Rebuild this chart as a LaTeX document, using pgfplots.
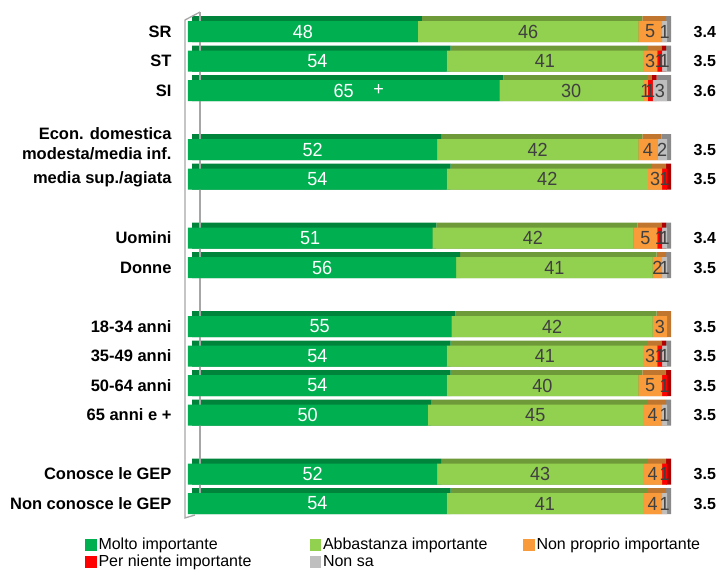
\documentclass[border=0pt]{standalone}
\usepackage{fontspec}
\setmainfont{Liberation Sans}
\newfontfamily\numfont[FakeStretch=0.95]{Liberation Sans}
\usepackage{pgfplots}
\usepackage{pgfplotstable}
\pgfplotsset{compat=1.18}
\definecolor{cA}{HTML}{00B050}
\definecolor{cB}{HTML}{92D050}
\definecolor{cC}{HTML}{F99B3B}
\definecolor{cD}{HTML}{FF0000}
\definecolor{cE}{HTML}{BFBFBF}
\definecolor{dA}{HTML}{00843C}
\definecolor{dB}{HTML}{6F9A3A}
\definecolor{dC}{HTML}{C0762E}
\definecolor{dD}{HTML}{B00000}
\definecolor{dE}{HTML}{8A8A8A}
\definecolor{lbl}{HTML}{404040}
\definecolor{axgray}{HTML}{A6A6A6}

\pgfplotstableread{
pos A B C D E avg
0  48 46 5 0 1 3.4
1  54 41 3 1 1 3.5
2  65 30 1 1 3 3.6
4  52 42 4 0 2 3.5
5  54 42 3 1 0 3.5
7  51 42 5 1 1 3.4
8  56 41 2 0 1 3.5
10 55 42 3 0 0 3.5
11 54 41 3 1 1 3.5
12 54 40 5 1 0 3.5
13 50 45 4 0 1 3.5
15 52 43 4 1 0 3.5
16 54 41 4 0 1 3.5
}\data

\pgfplotsset{
  base/.style={x=4.79pt, y=29.5pt, y dir=reverse, xmin=0, xmax=100,
    ymin=-0.75, ymax=16.75, anchor=origin, enlargelimits=false, clip=false},
  lg/.style={legend image code/.code={\fill[##1] (0pt,-5.75pt) rectangle (11.5pt,5.75pt);}},
  lab/.style={only marks, mark=none, nodes near coords, point meta=explicit,
    /pgf/number format/assume math mode=true,
    nodes near coords align=center,
    every node near coord/.append style={font=\fontsize{19}{21}\selectfont\numfont, inner sep=0pt}},
}

\begin{document}
\begin{tikzpicture}
\useasboundingbox (-188pt,31.5pt) rectangle (531pt,-542.5pt);
% back (3D top faces)
\begin{axis}[base, hide axis, at={(4pt,2.5pt)}, xbar stacked, bar width=26pt]
\draw[axgray, line width=1.3pt] (axis cs:1.67,-0.58) -- (axis cs:1.67,16.3);
\addplot[fill=dA, draw=none] table[x=A, y=pos]{\data};
\addplot[fill=dB, draw=none] table[x=B, y=pos]{\data};
\addplot[fill=dC, draw=none] table[x=C, y=pos]{\data};
\addplot[fill=dD, draw=none] table[x=D, y=pos]{\data};
\addplot[fill=dE, draw=none] table[x=E, y=pos]{\data};
\end{axis}
% front bars + legend
\begin{axis}[base, hide axis, at={(0pt,0pt)}, xbar stacked, bar width=21pt,
  legend columns=3,
  legend style={at={(axis description cs:-0.2150,-0.0201)}, anchor=north west,
    draw=none, fill=none, inner sep=0pt, outer sep=0pt, row sep=-1pt,
    font=\fontsize{16}{18}\selectfont, nodes={inner sep=2pt, text height=11pt, text depth=3pt},
    /tikz/every even column/.append style={column sep=0pt},
    /tikz/every odd column/.append style={column sep=0pt}},
  legend cell align=left]
\addplot[fill=cA, draw=none, lg] table[x=A, y=pos]{\data};
\addlegendentry{\makebox[209pt][l]{Molto importante}}
\addplot[fill=cB, draw=none, lg] table[x=B, y=pos]{\data};
\addlegendentry{\makebox[198pt][l]{Abbastanza importante}}
\addplot[fill=cC, draw=none, lg] table[x=C, y=pos]{\data};
\addlegendentry{Non proprio importante}
\addplot[fill=cD, draw=none, lg] table[x=D, y=pos]{\data};
\addlegendentry{\makebox[209pt][l]{Per niente importante}}
\addplot[fill=cE, draw=none, lg] table[x=E, y=pos]{\data};
\addlegendentry{\makebox[198pt][l]{Non sa}}
\end{axis}
% labels, ticks, axis line
\begin{axis}[base, at={(0pt,0pt)}, axis line style={draw=none}, major tick length=0pt,
  xtick=\empty,
  ytick={0,1,2,3.8,5,7,8,10,11,12,13,15,16},
  yticklabels={SR,ST,SI,{Econ. domestica\\modesta/media inf.},media sup./agiata,Uomini,Donne,18-34 anni,35-49 anni,50-64 anni,65 anni e +,Conosce le GEP,Non conosce le GEP},
  yticklabel style={font=\fontsize{16.5}{20}\selectfont\bfseries, align=right, xshift=-13pt}]
\draw[axgray, line width=1.3pt] (axis cs:2.51,-0.66) -- (axis cs:-0.63,-0.39) -- (axis cs:-0.63,16.49) -- (axis cs:1.46,16.39);
\addplot[lab, every node near coord/.append style={text=white}] table[x expr=\thisrow{A}/2, y=pos, meta=A]{\data};
\addplot[lab, every node near coord/.append style={text=lbl}] table[x expr=\thisrow{A}+\thisrow{B}/2, y=pos, meta=B]{\data};
\addplot[lab, every node near coord/.append style={text=lbl}, restrict expr to domain={\thisrow{C}}{0.5:200}] table[x expr=\thisrow{A}+\thisrow{B}+\thisrow{C}/2, y=pos, meta=C]{\data};
\addplot[lab, every node near coord/.append style={text=lbl}, restrict expr to domain={\thisrow{D}}{0.5:200}] table[x expr=\thisrow{A}+\thisrow{B}+\thisrow{C}+\thisrow{D}/2, y=pos, meta=D]{\data};
\addplot[lab, every node near coord/.append style={text=lbl}, restrict expr to domain={\thisrow{E}}{0.5:200}] table[x expr=\thisrow{A}+\thisrow{B}+\thisrow{C}+\thisrow{D}+\thisrow{E}/2, y=pos, meta=E]{\data};
\node[text=white, font=\fontsize{19}{21}\selectfont\numfont, inner sep=0pt] at (axis cs:39.8,2) {+};
\addplot[only marks, mark=none, point meta=explicit, /pgf/number format/assume math mode=true, nodes near coords={\pgfmathprintnumber[fixed,fixed zerofill,precision=1,assume math mode=true]{\pgfplotspointmeta}}, nodes near coords align=center, every node near coord/.append style={font=\fontsize{16}{18}\selectfont\bfseries, text=black, inner sep=0pt}] table[x expr=107.9, y=pos, meta=avg]{\data};
\end{axis}
\end{tikzpicture}
\end{document}
